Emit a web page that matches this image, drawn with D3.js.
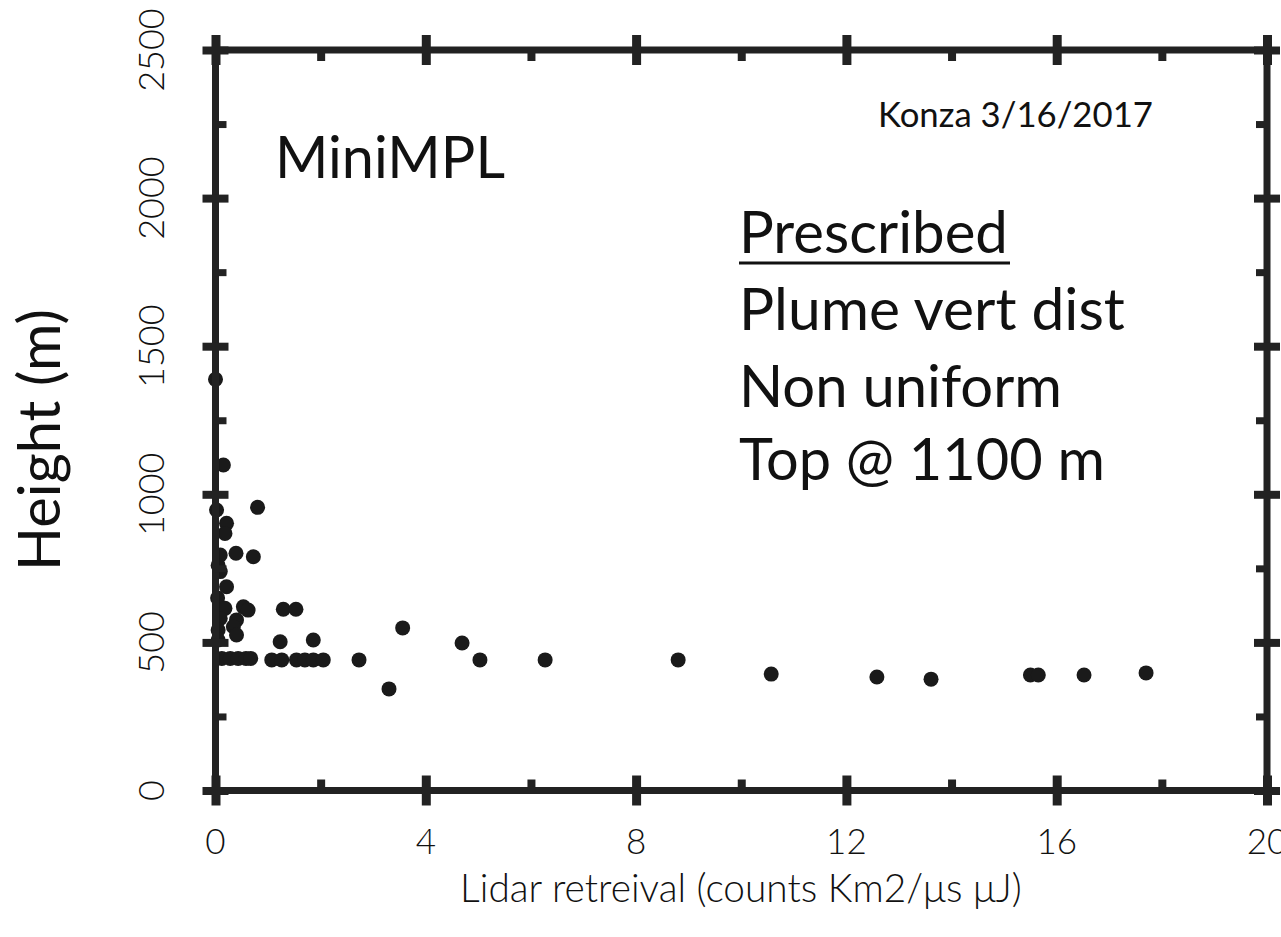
<!DOCTYPE html>
<html>
<head>
<meta charset="utf-8">
<script src="https://cdn.jsdelivr.net/npm/d3@7"></script>
<style>
  html, body { margin: 0; padding: 0; background: #fff; }
  svg { display: block; }
  text { font-family: Lato, "Open Sans", sans-serif; fill: #111; }
</style>
</head>
<body>
<svg id="chart" width="1281" height="937"></svg>
<script>
// ---- data ----
const lidarX = [
  0.00, 0.15, 0.02, 0.80, 0.21, 0.18, 0.09, 0.39, 0.72,
  0.09, 0.21, 0.05, 0.04, 0.18, 0.53, 0.62, 0.40, 0.09, 0.34, 0.05, 0.40, 0.05,
  0.12, 0.28, 0.43, 0.58, 0.67,
  1.23, 1.86, 1.29, 1.53,
  1.07, 1.26, 1.54, 1.70, 1.86, 2.05,
  2.73, 3.56, 3.30, 4.69, 5.03, 6.27, 8.80,
  10.57, 12.58, 13.61, 15.50, 15.65, 16.52, 17.70
];
const heightY = [
  1388, 1099, 947, 956, 902, 868, 795, 801, 789,
  739, 688, 760, 650, 615, 620, 609, 576, 581, 553, 542, 525, 508,
  446, 446, 446, 446, 446,
  502, 508, 612, 612,
  441, 441, 441, 441, 441, 441,
  441, 549, 343, 498, 441, 441, 441,
  393, 383, 376, 390, 390, 390, 397
];
const xTicks = [0, 4, 8, 12, 16, 20];
const xMinor = [2, 6, 10, 14, 18];
const yTicks = [0, 500, 1000, 1500, 2000, 2500];
const yMinor = [250, 750, 1250, 1750, 2250];
const xTitle = "Lidar retreival (counts Km2/\u03bcs \u03bcJ)";
const yTitle = "Height (m)";
const annotations = ["Plume vert dist", "Non uniform", "Top @ 1100 m"];

// ---- layout ----
const svg = d3.select("#chart");
const L = 215.5, R = 1267, T = 50, B = 790.5;
const x = d3.scaleLinear().domain([0, 20]).range([L, R]);
const y = d3.scaleLinear().domain([0, 2500]).range([B, T]);
const ink = "#222";

function fitWidth(sel, target) {
  const w = sel.node().getComputedTextLength();
  const fs = parseFloat(sel.attr("font-size"));
  sel.attr("font-size", fs * target / w);
}

// points
svg.append("g").selectAll("circle")
  .data(lidarX.map((v, i) => [v, heightY[i]]))
  .join("circle")
  .attr("cx", d => x(d[0]))
  .attr("cy", d => y(d[1]))
  .attr("r", 7.5)
  .attr("fill", "#1a1a1a");

// frame
svg.append("rect")
  .attr("x", L).attr("y", T)
  .attr("width", R - L).attr("height", B - T)
  .attr("fill", "none").attr("stroke", ink).attr("stroke-width", 7);

// ticks using axes
const majLen = 15, minLen = 11;
function styleAxis(g) {
  g.select(".domain").remove();
  g.selectAll(".tick line").attr("stroke", ink);
  g.selectAll(".tick text").remove();
}
svg.append("g").attr("transform", `translate(0,${B - majLen})`)
  .call(d3.axisBottom(x).tickValues(xTicks).tickSize(2 * majLen)).call(styleAxis)
  .selectAll(".tick line").attr("stroke-width", 9);
svg.append("g").attr("transform", `translate(0,${T - majLen})`)
  .call(d3.axisBottom(x).tickValues(xTicks).tickSize(2 * majLen)).call(styleAxis)
  .selectAll(".tick line").attr("stroke-width", 9);
svg.append("g").attr("transform", `translate(0,${B})`)
  .call(d3.axisTop(x).tickValues(xMinor).tickSize(minLen)).call(styleAxis)
  .selectAll(".tick line").attr("stroke-width", 8);
svg.append("g").attr("transform", `translate(0,${T})`)
  .call(d3.axisBottom(x).tickValues(xMinor).tickSize(minLen)).call(styleAxis)
  .selectAll(".tick line").attr("stroke-width", 8);
svg.append("g").attr("transform", `translate(${L - 13},0)`)
  .call(d3.axisRight(y).tickValues(yTicks).tickSize(26)).call(styleAxis)
  .selectAll(".tick line").attr("stroke-width", 8);
svg.append("g").attr("transform", `translate(${R - 13},0)`)
  .call(d3.axisRight(y).tickValues(yTicks).tickSize(26)).call(styleAxis)
  .selectAll(".tick line").attr("stroke-width", 8);
svg.append("g").attr("transform", `translate(${L},0)`)
  .call(d3.axisRight(y).tickValues(yMinor).tickSize(minLen)).call(styleAxis)
  .selectAll(".tick line").attr("stroke-width", 7);
svg.append("g").attr("transform", `translate(${R},0)`)
  .call(d3.axisLeft(y).tickValues(yMinor).tickSize(minLen)).call(styleAxis)
  .selectAll(".tick line").attr("stroke-width", 7);

// tick labels
svg.append("g").selectAll("text").data(xTicks).join("text")
  .attr("x", d => x(d)).attr("y", 854)
  .attr("text-anchor", "middle").attr("font-size", 35).attr("font-weight", 300)
  .attr("fill", "#222")
  .text(d => d);
svg.append("g").selectAll("text").data(yTicks).join("text")
  .attr("transform", d => `translate(164,${y(d)}) rotate(-90)`)
  .attr("text-anchor", "middle").attr("font-size", 36).attr("font-weight", 300)
  .attr("fill", "#222")
  .text(d => d);

// axis titles
const xt = svg.append("text").attr("x", 741).attr("y", 902)
  .attr("text-anchor", "middle").attr("font-size", 30).attr("font-weight", 300)
  .attr("fill", "#222").text(xTitle);
fitWidth(xt, 562);
const yt = svg.append("text").attr("transform", "translate(60,440) rotate(-90)")
  .attr("text-anchor", "middle").attr("font-size", 44).text(yTitle);
fitWidth(yt, 262);

// annotations
const mini = svg.append("text").attr("x", 275).attr("y", 178).attr("font-size", 46).text("MiniMPL");
fitWidth(mini, 230);
const konza = svg.append("text").attr("x", 878).attr("y", 127).attr("font-size", 30).text("Konza 3/16/2017");
fitWidth(konza, 275);
const pres = svg.append("text").attr("x", 739).attr("y", 253).attr("font-size", 50).text("Prescribed");
fitWidth(pres, 269);
svg.append("line").attr("x1", 739).attr("x2", 1010).attr("y1", 263).attr("y2", 263)
  .attr("stroke", "#111").attr("stroke-width", 3);
const targets = [[330, 386], [407, 323], [480, 366]];
annotations.forEach((t, i) => {
  const s = svg.append("text").attr("x", 739).attr("y", targets[i][0]).attr("font-size", 50).text(t);
  fitWidth(s, targets[i][1]);
});
</script>
</body>
</html>
